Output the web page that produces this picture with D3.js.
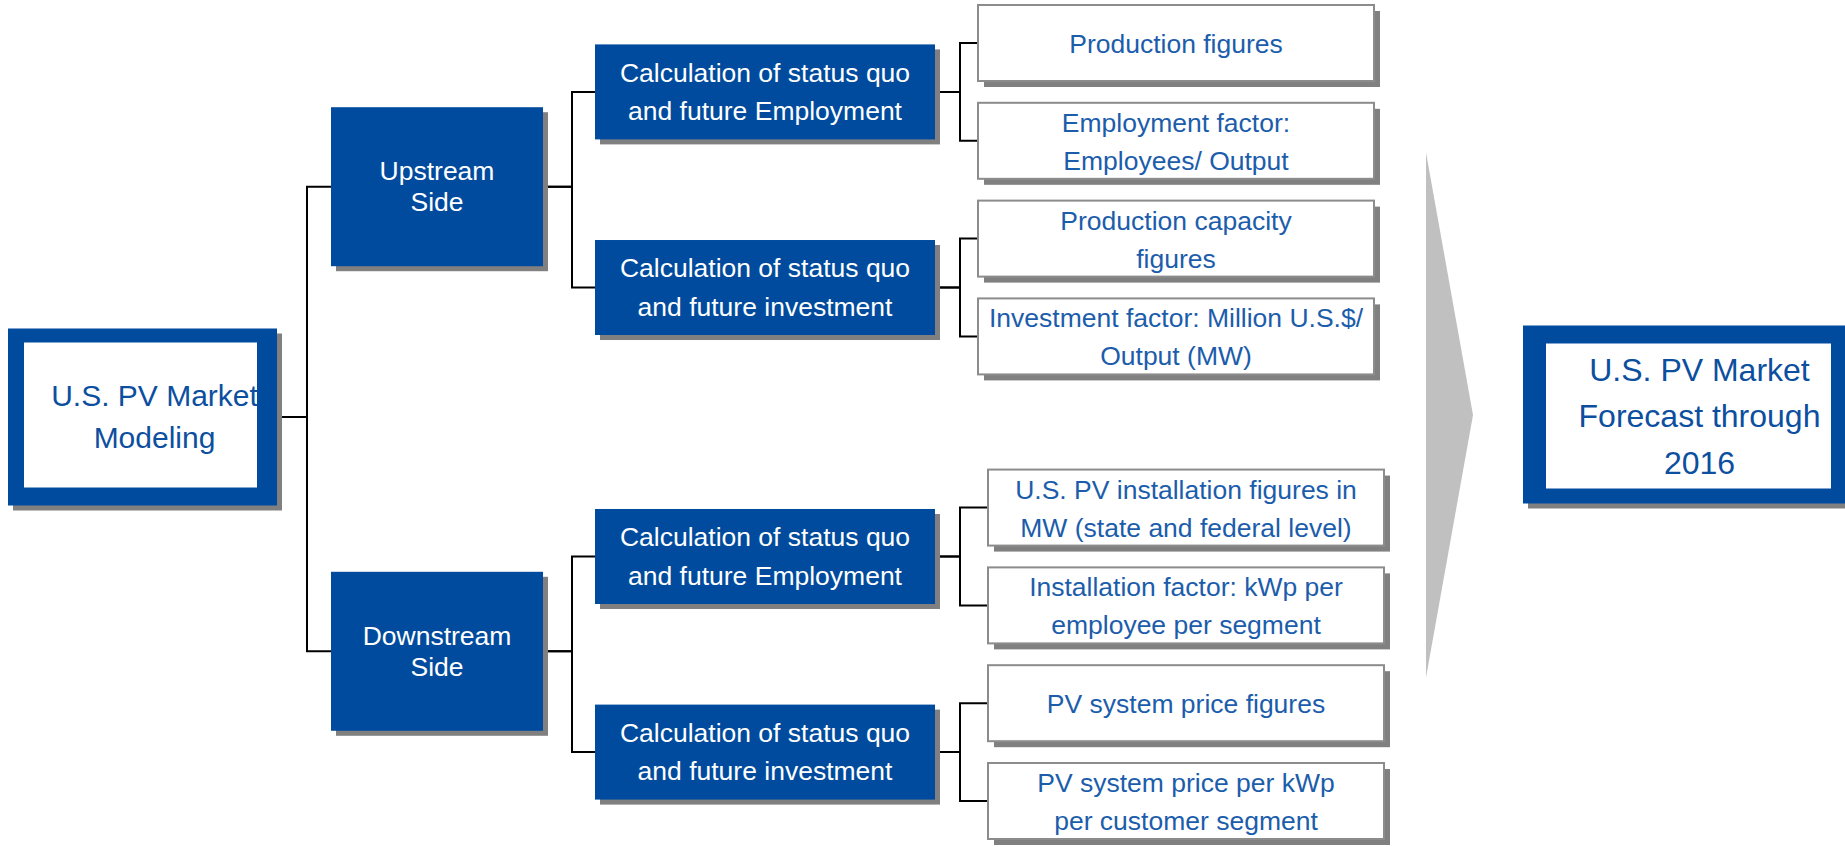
<!DOCTYPE html>
<html>
<head>
<meta charset="utf-8">
<script src="https://cdn.jsdelivr.net/npm/d3@7"></script>
<style>
  body { margin: 0; background: #fff; }
  svg { display: block; font-family: "Liberation Sans", Arial, sans-serif; }
</style>
</head>
<body>
<script>
// Diagram content
const rootLabel = ['U.S. PV Market', 'Modeling'];
const sideLabels = [['Upstream', 'Side'], ['Downstream', 'Side']];
const calcLabels = [
    ['Calculation of status quo', 'and future Employment'],
    ['Calculation of status quo', 'and future investment'],
    ['Calculation of status quo', 'and future Employment'],
    ['Calculation of status quo', 'and future investment']
];
const calcSide = [0, 0, 1, 1];
const inputLabels = [
    ['Production figures'],
    ['Employment factor:', 'Employees/ Output'],
    ['Production capacity', 'figures'],
    ['Investment factor: Million U.S.$/', 'Output (MW)'],
    ['U.S. PV installation figures in', 'MW (state and federal level)'],
    ['Installation factor: kWp per', 'employee per segment'],
    ['PV system price figures'],
    ['PV system price per kWp', 'per customer segment']
];
const inputCalc = [0, 0, 1, 1, 2, 2, 3, 3];
const outcomeLabel = ['U.S. PV Market', 'Forecast through', '2016'];

const W = 1845, H = 847;
const BLUE = '#004b9d';
const SHADOW = '#808080';

const svg = d3.select('body').append('svg').attr('width', W).attr('height', H);

// Layout: columns by depth, rows by leaf slot (extra gap between the two sides)
const colX = d3.scaleOrdinal().domain([0, 1, 2, 3]).range([8, 331, 595, 978]);
const colW = d3.scaleOrdinal().domain([0, 1, 2, 3]).range([269, 212, 340, 396]);
const colH = d3.scaleOrdinal().domain([0, 1, 2, 3]).range([177, 159, 95, 76]);
const sideGap = 0.75;
const rowY = d3.scaleLinear().domain([0, inputLabels.length - 1 + sideGap]).range([43, 801]);

const inputs = inputLabels.map((lines, i) => {
    const side = calcSide[inputCalc[i]];
    const cy = rowY(i + side * sideGap);
    return { lines, cy, x: colX(3) + side * 10, w: colW(3), h: colH(3), parent: inputCalc[i] };
});
const calcs = calcLabels.map((lines, i) => {
    const kids = inputs.filter((d) => d.parent === i);
    return { lines, cy: d3.mean(kids, (d) => d.cy), x: colX(2), w: colW(2), h: colH(2), parent: calcSide[i], kids };
});
const sides = sideLabels.map((lines, i) => {
    const kids = calcs.filter((d) => d.parent === i);
    return { lines, cy: d3.mean(kids, (d) => d.cy) - 3, x: colX(1), w: colW(1), h: colH(1), kids };
});
const root = { lines: rootLabel, cy: d3.mean(sides, (d) => d.cy) - 2, x: colX(0), w: colW(0), h: colH(0), kids: sides };

// Connectors (elbow lines) under the boxes
const links = [];
const addLinks = (parent, gap) => {
    parent.kids.forEach((kid) => {
        const elbow = parent.x + parent.w + gap;
        links.push(`M${parent.x + parent.w},${parent.cy}H${elbow}V${kid.cy}H${kid.x}`);
    });
};
addLinks(root, 30);
sides.forEach((s) => addLinks(s, 29));
calcs.forEach((c) => addLinks(c, 25));

svg.append('g').selectAll('path').data(links).enter().append('path')
    .attr('d', (d) => d)
    .attr('fill', 'none')
    .attr('stroke', '#000')
    .attr('stroke-width', 2);

// Text helper: lines centered around a middle baseline
const writeLines = (g, lines, cx, mid, size, lh, color) => {
    const first = mid - (lines.length - 1) * lh / 2;
    g.selectAll(null).data(lines).enter().append('text')
        .attr('x', cx)
        .attr('y', (d, i) => first + i * lh)
        .attr('text-anchor', 'middle')
        .attr('font-size', size)
        .attr('fill', color)
        .text((d) => d);
};

// Blue boxes (sides and calculations)
const solid = svg.append('g').selectAll('g').data([...sides, ...calcs]).enter().append('g');
solid.append('rect')
    .attr('x', (d) => d.x + 5).attr('y', (d) => d.cy - d.h / 2 + 5)
    .attr('width', (d) => d.w).attr('height', (d) => d.h)
    .attr('fill', SHADOW);
solid.append('rect')
    .attr('x', (d) => d.x).attr('y', (d) => d.cy - d.h / 2)
    .attr('width', (d) => d.w).attr('height', (d) => d.h)
    .attr('fill', BLUE);
solid.each(function (d) {
    const lh = d.h > 120 ? 31.5 : 38.5;
    writeLines(d3.select(this), d.lines, d.x + d.w / 2, d.cy + 9, 26.5, lh, '#fff');
});

// Input boxes (white with grey frame)
const leaf = svg.append('g').selectAll('g').data(inputs).enter().append('g');
leaf.append('rect')
    .attr('x', (d) => d.x + 6).attr('y', (d) => d.cy - d.h / 2 + 6)
    .attr('width', (d) => d.w).attr('height', (d) => d.h)
    .attr('fill', SHADOW);
leaf.append('rect')
    .attr('x', (d) => d.x).attr('y', (d) => d.cy - d.h / 2)
    .attr('width', (d) => d.w).attr('height', (d) => d.h)
    .attr('fill', '#fff')
    .attr('stroke', '#8c8c8c')
    .attr('stroke-width', 2);
leaf.each(function (d) {
    writeLines(d3.select(this), d.lines, d.x + d.w / 2, d.cy + 10, 26.5, 38, '#1c5dab');
});

// Framed boxes: root on the left, outcome on the right
const framed = (g, x, cy, w, h, inset, lines, textDx, mid, size, lh) => {
    const y = cy - h / 2;
    g.append('rect').attr('x', x + 5).attr('y', y + 5).attr('width', w).attr('height', h).attr('fill', SHADOW);
    g.append('rect').attr('x', x).attr('y', y).attr('width', w).attr('height', h).attr('fill', BLUE);
    g.append('rect')
        .attr('x', x + inset[0]).attr('y', y + inset[1])
        .attr('width', w - inset[0] - inset[2]).attr('height', h - inset[1] - inset[3])
        .attr('fill', '#fff');
    writeLines(g, lines, x + w / 2 + textDx, cy + mid, size, lh, '#0d4f9f');
};
framed(svg.append('g'), root.x, root.cy, root.w, root.h, [16, 14, 20, 18], root.lines, 12, 9.5, 30, 42);

// Big grey arrow pointing to the outcome
const outcomeCy = root.cy - 2.5;
const arrowX = d3.scaleLinear().domain([0, 1]).range([1426, 1473]);
const arrowY = d3.scaleLinear().domain([-1, 1]).range([outcomeCy - 262, outcomeCy + 263]);
svg.append('path')
    .attr('d', d3.line()([[arrowX(0), arrowY(-1)], [arrowX(1), arrowY(0)], [arrowX(0), arrowY(1)]]) + 'Z')
    .attr('fill', '#c0c0c0');

framed(svg.append('g'), 1523, outcomeCy, 325, 178, [23, 18, 17, 15], outcomeLabel, 14, 12.5, 32, 46.5);
</script>
</body>
</html>
